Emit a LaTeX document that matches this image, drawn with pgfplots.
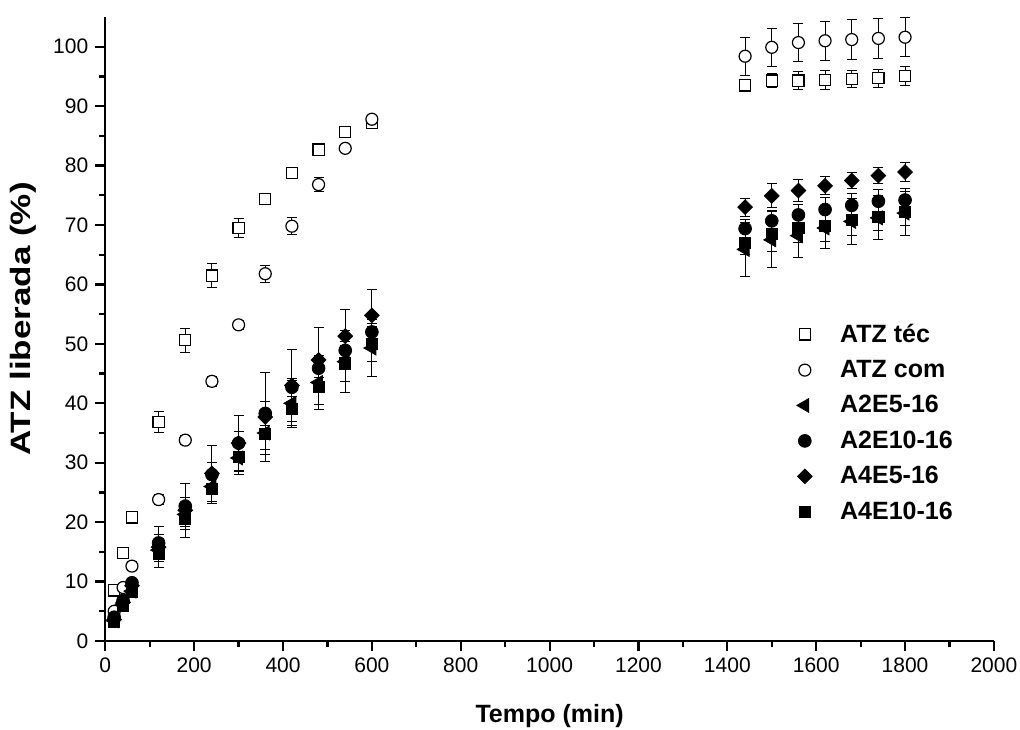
\documentclass[border=0pt]{standalone}
\usepackage{fontspec}
\setmainfont{Liberation Sans}
\usepackage{pgfplots}
\pgfplotsset{compat=1.18}
\begin{document}
\begin{tikzpicture}
\useasboundingbox (-52.65pt,-44pt) rectangle (457.35pt,320.5pt);
\begin{axis}[
  scale only axis,
  width=444.3pt, height=312pt,
  xmin=0, xmax=2000, ymin=0, ymax=105,
  axis x line*=bottom, axis y line*=left,
  axis line style={line width=1.2pt, -},
  xtick={0,200,...,2000}, ytick={0,10,...,100},
  minor x tick num=1, minor y tick num=1,
  tick align=outside,
  major tick length=5pt, minor tick length=3pt,
  tick style={line width=1.1pt, black},
  /pgf/number format/assume math mode=true,
  /pgf/number format/1000 sep={},
  ticklabel style={font=\fontsize{10.5}{12}\selectfont},
  xlabel={\textbf{Tempo (min)}},
  ylabel={\scalebox{1.25}[1]{\textbf{ATZ liberada (\%)}}},
  xlabel style={font=\fontsize{12.5}{14}\selectfont, at={(axis description cs:0.5,-0.12)}, anchor=center},
  ylabel style={font=\fontsize{14}{16}\selectfont, at={(axis description cs:-0.0924,0.516)}, anchor=center},
  legend style={draw=none, fill=none, at={(rel axis cs:0.771,0.522)}, anchor=north west,
    font=\bfseries\fontsize{12.5}{14}\selectfont, row sep=3.5pt},
  legend cell align=left,
  error bars/y dir=both, error bars/y explicit,
  error bars/error bar style={line width=0.5pt, black},
  error bars/error mark options={rotate=90, mark size=2.5pt, line width=0.5pt, black},
]
\addplot[only marks, mark=square*, mark size=2.8pt, mark options={fill=white, draw=black, line width=0.6pt}] coordinates {
(20,8.5) +- (0,0.6) (40,14.8) +- (0,0.6) (60,20.8) +- (0,0.4) (120,36.9) +- (0,1.8)
(180,50.6) +- (0,2.0) (240,61.5) +- (0,2.0) (300,69.5) +- (0,1.6) (360,74.4) +- (0,0.6)
(420,78.8) +- (0,0.7) (480,82.7) +- (0,0.5) (540,85.6) +- (0,0.6) (600,87.2) +- (0,0.6)
(1440,93.5) +- (0,1.0) (1500,94.3) +- (0,1.2) (1560,94.3) +- (0,1.5) (1620,94.4) +- (0,1.6)
(1680,94.6) +- (0,1.4) (1740,94.7) +- (0,1.5) (1800,95.1) +- (0,1.65)
};
\addlegendentry{\hspace*{12pt}ATZ téc}
\addplot[only marks, mark=*, mark size=3.0pt, mark options={fill=white, draw=black, line width=0.6pt}] coordinates {
(20,5.0) +- (0,0.5) (40,9.0) +- (0,0.5) (60,12.6) +- (0,0.8) (120,23.8) +- (0,0.8)
(180,33.8) +- (0,0.7) (240,43.7) +- (0,0.8) (300,53.2) +- (0,0.8) (360,61.8) +- (0,1.4)
(420,69.8) +- (0,1.45) (480,76.8) +- (0,1.2) (540,82.9) +- (0,0.6) (600,87.8) +- (0,0.5)
(1440,98.4) +- (0,3.2) (1500,99.9) +- (0,3.2) (1560,100.7) +- (0,3.2) (1620,101.0) +- (0,3.3)
(1680,101.2) +- (0,3.3) (1740,101.4) +- (0,3.3) (1800,101.6) +- (0,3.3)
};
\addlegendentry{\hspace*{12pt}ATZ com}
\addplot[only marks, mark=triangle*, mark size=4pt, mark options={fill=black, draw=black, rotate=90}] coordinates {
(20,3.4) +- (0,0.5) (40,6.2) +- (0,0.8) (60,8.4) +- (0,1.0) (120,15.3) +- (0,1.9)
(180,21.3) +- (0,2.0) (240,26.0) +- (0,2.5) (300,30.8) +- (0,2.8) (360,35.0) +- (0,3.6)
(420,40.0) +- (0,3.8) (480,43.5) +- (0,4.6) (540,47.0) +- (0,5.2) (600,49.3) +- (0,4.8)
(1440,65.9) +- (0,4.5) (1500,67.5) +- (0,4.7) (1560,68.2) +- (0,3.6) (1620,69.5) +- (0,3.5)
(1680,70.6) +- (0,3.8) (1740,71.2) +- (0,3.7) (1800,72.0) +- (0,3.7)
};
\addlegendentry{\hspace*{12pt}A2E5-16}
\addplot[only marks, mark=*, mark size=3.2pt, mark options={fill=black, draw=black}] coordinates {
(20,4.0) +- (0,0.5) (40,6.8) +- (0,0.6) (60,9.8) +- (0,0.8) (120,16.5) +- (0,1.5)
(180,22.7) +- (0,1.5) (240,28.0) +- (0,2.0) (300,33.3) +- (0,2.0) (360,38.3) +- (0,2.0)
(420,42.7) +- (0,1.5) (480,45.9) +- (0,1.5) (540,48.9) +- (0,1.5) (600,52.0) +- (0,1.5)
(1440,69.4) +- (0,1.5) (1500,70.7) +- (0,1.8) (1560,71.7) +- (0,1.8) (1620,72.6) +- (0,2.0)
(1680,73.3) +- (0,2.0) (1740,74.0) +- (0,2.0) (1800,74.2) +- (0,2.0)
};
\addlegendentry{\hspace*{12pt}A2E10-16}
\addplot[only marks, mark=square*, mark size=2.6pt, mark options={fill=black, draw=black, rotate=45}] coordinates {
(20,3.6) +- (0,0.5) (40,6.5) +- (0,0.6) (60,9.3) +- (0,0.8) (120,15.8) +- (0,3.5)
(180,22.0) +- (0,4.5) (240,28.2) +- (0,4.7) (300,33.3) +- (0,4.6) (360,37.7) +- (0,7.5)
(420,43.0) +- (0,6.0) (480,47.3) +- (0,5.5) (540,51.3) +- (0,4.5) (600,54.8) +- (0,4.4)
(1440,73.0) +- (0,1.5) (1500,74.9) +- (0,2.0) (1560,75.8) +- (0,1.8) (1620,76.6) +- (0,1.5)
(1680,77.5) +- (0,1.4) (1740,78.3) +- (0,1.4) (1800,78.9) +- (0,1.6)
};
\addlegendentry{\hspace*{12pt}A4E5-16}
\addplot[only marks, mark=square*, mark size=2.8pt, mark options={fill=black, draw=black}] coordinates {
(20,3.2) +- (0,0.5) (40,6.0) +- (0,0.6) (60,8.3) +- (0,0.8) (120,14.6) +- (0,1.2)
(180,20.5) +- (0,1.8) (240,25.6) +- (0,2.4) (300,31.0) +- (0,2.5) (360,34.8) +- (0,2.5)
(420,39.0) +- (0,3.0) (480,42.8) +- (0,3.0) (540,46.7) +- (0,3.0) (600,50.0) +- (0,3.0)
(1440,67.0) +- (0,2.0) (1500,68.5) +- (0,3.0) (1560,69.5) +- (0,2.5) (1620,69.8) +- (0,2.5)
(1680,70.8) +- (0,2.5) (1740,71.4) +- (0,2.3) (1800,72.2) +- (0,2.3)
};
\addlegendentry{\hspace*{12pt}A4E10-16}
\end{axis}
\end{tikzpicture}
\end{document}
